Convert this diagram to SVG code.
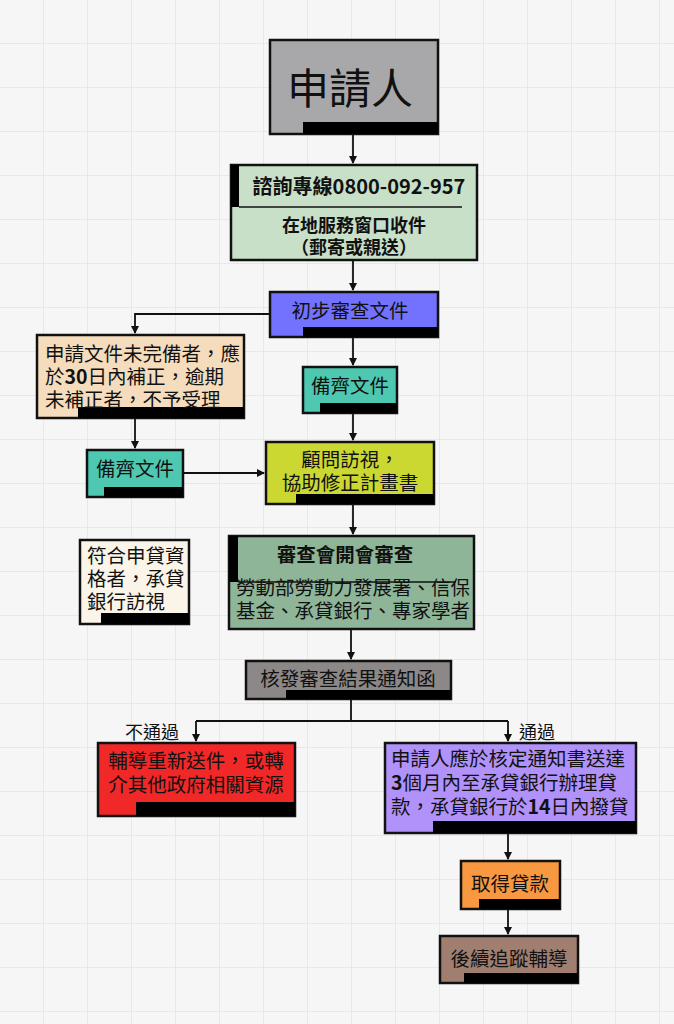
<svg xmlns="http://www.w3.org/2000/svg" width="674" height="1024" viewBox="0 0 674 1024">
<defs>
<pattern id="grid" width="44" height="44" patternUnits="userSpaceOnUse" x="0" y="0">
<path d="M44 0V44M0 44H44" fill="none" stroke="#e3e3e3" stroke-width="1.5"/>
</pattern>
<marker id="ar" markerWidth="8" markerHeight="8" refX="7" refY="4" orient="auto" markerUnits="userSpaceOnUse">
<path d="M0 0L8 4L0 8Z" fill="#111"/>
</marker>
</defs>
<style>
.b{stroke:#111;stroke-width:2.5}
.k{fill:#000}
text{font-family:"Noto Sans CJK TC","Noto Sans CJK SC",sans-serif;fill:#111;font-size:19.5px}
.c{text-anchor:middle}
.w{font-weight:bold}
.cn{fill:none;stroke:#111;stroke-width:1.8}
</style>
<rect width="674" height="1024" fill="#f6f6f6"/>
<rect width="674" height="1024" fill="url(#grid)"/>
<g id="connectors">
<path class="cn" d="M353 134V163" marker-end="url(#ar)"/>
<path class="cn" d="M353 260V290" marker-end="url(#ar)"/>
<path class="cn" d="M353 337V365" marker-end="url(#ar)"/>
<path class="cn" d="M353 413V440" marker-end="url(#ar)"/>
<path class="cn" d="M270 314H135V333" marker-end="url(#ar)"/>
<path class="cn" d="M135 418V448" marker-end="url(#ar)"/>
<path class="cn" d="M183 473H264" marker-end="url(#ar)"/>
<path class="cn" d="M353 504V534" marker-end="url(#ar)"/>
<path class="cn" d="M351 629V659" marker-end="url(#ar)"/>
<path class="cn" d="M351 699V721M196 721H508M196 721V741M508 721V741"/>
<path class="cn" d="M196 730V741" marker-end="url(#ar)"/>
<path class="cn" d="M508 730V741" marker-end="url(#ar)"/>
<path class="cn" d="M508 833V859" marker-end="url(#ar)"/>
<path class="cn" d="M508 909V934" marker-end="url(#ar)"/>
<text x="152" y="739" class="c" style="font-size:18px">不通過</text>
<text x="537" y="739" class="c" style="font-size:18px">通過</text>
</g>
<g id="n1"><rect x="270" y="40" width="168" height="94" fill="#a8a8aa" class="b"/><rect x="303" y="122" width="135" height="12" class="k"/><text x="350" y="104" class="c" style="font-size:42px">申請人</text></g>
<g id="n2"><rect x="231" y="165" width="246" height="95" fill="#c8dfc8" class="b"/><rect x="231" y="165" width="8" height="42" class="k"/><path d="M239 207H462" stroke="#111" stroke-width="1.5"/><text x="359" y="194" class="c w" style="font-size:20px">諮詢專線0800-092-957</text><text x="354" y="232" class="c w" style="font-size:18px">在地服務窗口收件</text><text x="354" y="254" class="c w" style="font-size:18px">（郵寄或親送）</text></g>
<g id="n3"><rect x="270" y="292" width="168" height="45" fill="#7272ff" class="b"/><rect x="303" y="327" width="135" height="10" class="k"/><text x="350" y="318" class="c">初步審查文件</text></g>
<g id="n4"><rect x="37" y="335" width="207" height="83" fill="#f5dcbc" class="b"/><rect x="78" y="407" width="166" height="11" class="k"/><text x="45" y="361">申請文件未完備者，應</text><text x="45" y="384">於<tspan class="w">30</tspan>日內補正，逾期</text><text x="45" y="407">未補正者，不予受理</text></g>
<g id="n5"><rect x="303" y="367" width="94" height="46" fill="#4ec8b0" class="b"/><rect x="320" y="403" width="77" height="10" class="k"/><text x="350" y="393" class="c">備齊文件</text></g>
<g id="n6"><rect x="87" y="450" width="96" height="47" fill="#4ec8b0" class="b"/><rect x="104" y="487" width="79" height="10" class="k"/><text x="135" y="476" class="c">備齊文件</text></g>
<g id="n7"><rect x="266" y="442" width="168" height="62" fill="#cbd832" class="b"/><rect x="296" y="494" width="138" height="10" class="k"/><text x="350" y="467" class="c">顧問訪視，</text><text x="350" y="490" class="c">協助修正計畫書</text></g>
<g id="n8"><rect x="80" y="540" width="109" height="84" fill="#fbf5e9" class="b"/><rect x="101" y="613" width="88" height="11" class="k"/><text x="87" y="563">符合申貸資</text><text x="87" y="586">格者，承貸</text><text x="87" y="609">銀行訪視</text></g>
<g id="n9"><rect x="229" y="536" width="245" height="93" fill="#8fb598" class="b"/><rect x="229" y="536" width="9" height="46" class="k"/><path d="M238 582H456" stroke="#111" stroke-width="1.5"/><text x="345" y="562" class="c w">審查會開會審查</text><text x="353" y="595" class="c">勞動部勞動力發展署、信保</text><text x="353" y="618" class="c">基金、承貸銀行、專家學者</text></g>
<g id="n10"><rect x="246" y="661" width="205" height="38" fill="#8c8888" class="b"/><rect x="286" y="690" width="165" height="9" class="k"/><text x="348" y="686" class="c">核發審查結果通知函</text></g>
<g id="n11"><rect x="98" y="743" width="197" height="73" fill="#f02828" class="b"/><rect x="136" y="802" width="159" height="14" class="k"/><text x="196" y="768" class="c">輔導重新送件，或轉</text><text x="196" y="792" class="c">介其他政府相關資源</text></g>
<g id="n12"><rect x="385" y="743" width="251" height="90" fill="#b092fa" class="b"/><rect x="433" y="821" width="203" height="12" class="k"/><text x="391" y="766">申請人應於核定通知書送達</text><text x="391" y="790"><tspan class="w">3</tspan>個月內至承貸銀行辦理貸</text><text x="391" y="814">款，承貸銀行於<tspan class="w">14</tspan>日內撥貸</text></g>
<g id="n13"><rect x="461" y="861" width="99" height="48" fill="#f89840" class="b"/><rect x="479" y="899" width="81" height="10" class="k"/><text x="510" y="891" class="c">取得貸款</text></g>
<g id="n14"><rect x="440" y="936" width="138" height="47" fill="#a07f70" class="b"/><rect x="464" y="973" width="114" height="10" class="k"/><text x="509" y="966" class="c">後續追蹤輔導</text></g>
</svg>
